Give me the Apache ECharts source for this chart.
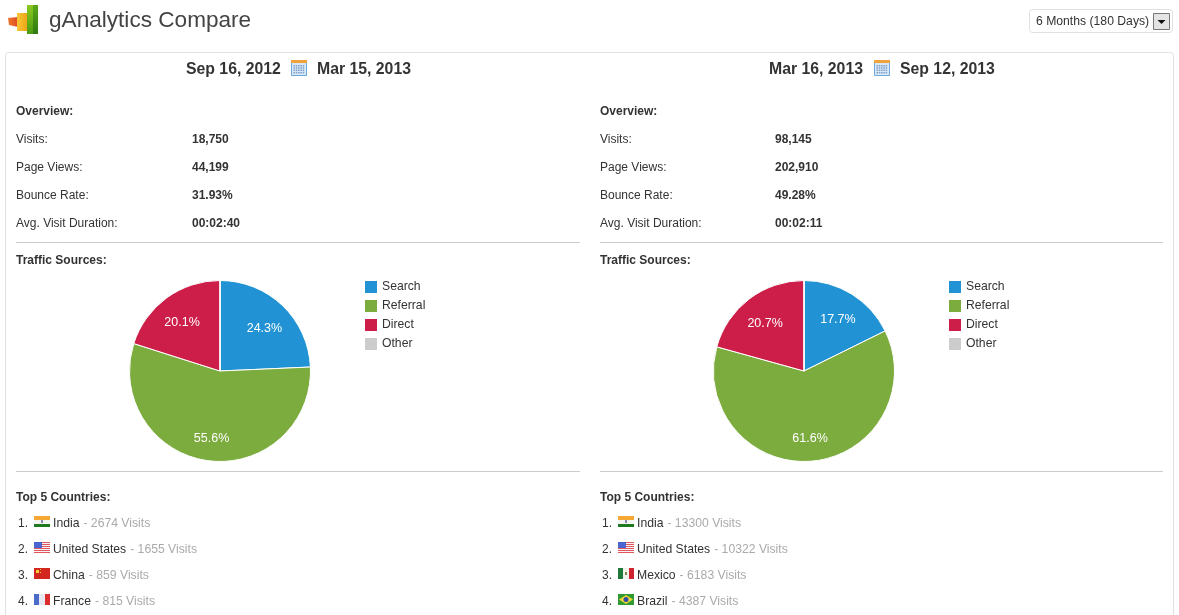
<!DOCTYPE html>
<html><head><meta charset="utf-8">
<style>html,body{margin:0;padding:0;background:#fff}#c{width:1179px;height:615px}</style>
<script src="https://cdn.jsdelivr.net/npm/echarts@6/dist/echarts.min.js"></script>
</head><body><div id="c"></div>
<script>
const sources = ['Search', 'Referral', 'Direct', 'Other'];
const sourceColors = ['#2192d3', '#7cab3e', '#cd1e4a', '#cccccc'];
const leftShares = [24.3, 55.6, 20.1, 0];
const rightShares = [17.7, 61.6, 20.7, 0];
const leftDates = ['Sep 16, 2012', 'Mar 15, 2013'];
const rightDates = ['Mar 16, 2013', 'Sep 12, 2013'];
const overviewLabels = ['Visits:', 'Page Views:', 'Bounce Rate:', 'Avg. Visit Duration:'];
const leftOverview = ['18,750', '44,199', '31.93%', '00:02:40'];
const rightOverview = ['98,145', '202,910', '49.28%', '00:02:11'];
const leftCountries = ['India', 'United States', 'China', 'France'];
const leftCountryVisits = [2674, 1655, 859, 815];
const rightCountries = ['India', 'United States', 'Mexico', 'Brazil'];
const rightCountryVisits = [13300, 10322, 6183, 4387];

const FONT = '"Liberation Sans", Arial, sans-serif';
const g = [];
const txt = (x, y, text, o = {}) => g.push({type: 'text', x, y: y + 1, silent: true, z: 5, style: {
  text, fill: o.fill || '#333', font: `${o.weight || 'normal'} ${o.size || 12}px ${FONT}`,
  textVerticalAlign: 'middle', textAlign: o.align || 'left', rich: o.rich}});
const rect = (x, y, width, height, fill, o = {}) => g.push({type: 'rect', silent: true, z: o.z || 4,
  shape: {x, y, width, height, r: o.r || 0},
  style: {fill, stroke: o.stroke, lineWidth: o.stroke ? 1 : 0}});
const vGrad = (a, b) => new echarts.graphic.LinearGradient(0, 0, 0, 1, [{offset: 0, color: a}, {offset: 1, color: b}]);
const hGrad = (a, b) => new echarts.graphic.LinearGradient(0, 0, 1, 0, [{offset: 0, color: a}, {offset: 1, color: b}]);

const flags = {
  'India': (x, y) => { rect(x, y, 16, 4, '#f5a833'); rect(x, y + 4, 16, 4, '#f4f4f0'); rect(x, y + 8, 16, 3, '#1f7a1f'); rect(x + 7, y + 4, 2, 3, '#8a8ab0'); },
  'United States': (x, y) => { rect(x, y, 16, 11, '#f4f4f8'); [0, 2, 4, 6, 8, 10].forEach(d => rect(x, y + d, 16, 1, '#e0565c')); rect(x, y, 8, 6, '#4a64d0'); },
  'China': (x, y) => { rect(x, y, 16, 11, '#d3261f'); rect(x + 2, y + 2, 3, 3, '#f4d03a'); rect(x + 6, y + 1, 1, 1, '#f4d03a'); rect(x + 6, y + 4, 1, 1, '#f4d03a'); },
  'France': (x, y) => { rect(x, y, 5, 11, '#4a6cc8'); rect(x + 5, y, 6, 11, '#e8e8f0'); rect(x + 11, y, 5, 11, '#dd2c2c'); },
  'Mexico': (x, y) => { rect(x, y, 5, 11, '#1f7a3a'); rect(x + 5, y, 6, 11, '#f2f2ea'); rect(x + 11, y, 5, 11, '#cf2230'); rect(x + 7, y + 4, 2, 3, '#7a8a50'); },
  'Brazil': (x, y) => { rect(x, y, 16, 11, '#2f9a2f');
    g.push({type: 'polygon', silent: true, z: 5, shape: {points: [[x + 8, y + 1], [x + 15, y + 5.5], [x + 8, y + 10], [x + 1, y + 5.5]]}, style: {fill: '#f2d53a'}});
    g.push({type: 'circle', silent: true, z: 6, shape: {cx: x + 8, cy: y + 5.5, r: 2.5}, style: {fill: '#2f4fa0'}}); }
};

function calendar(x, y) {
  rect(x + .5, y + .5, 15, 15, '#d8e8f6', {stroke: '#6ea8dc', z: 4});
  rect(x, y, 16, 3, '#f0a23c', {z: 5});
  for (let r = 0; r < 4; r++) for (let c = 0; c < 5; c++) rect(x + 2.5 + c * 2.3, y + 5 + r * 2.3, 1.5, 1.5, '#7fa0cc', {z: 5});
}

function column(ox, dox, dates, overview, countries, visits) {
  txt(186 + dox, 69, dates[0], {weight: 'bold', size: 15.8});
  calendar(291 + dox, 60);
  txt(317 + dox, 69, dates[1], {weight: 'bold', size: 15.8});
  txt(16 + ox, 111, 'Overview:', {weight: 'bold'});
  overviewLabels.forEach((l, i) => {
    txt(16 + ox, 139 + 28 * i, l);
    txt(192 + dox, 139 + 28 * i, overview[i], {weight: 'bold'});
  });
  rect(16 + ox, 242, 564 - (ox ? 1 : 0), 1, '#cccccc');
  txt(16 + ox, 260, 'Traffic Sources:', {weight: 'bold'});
  rect(16 + ox, 471, 564 - (ox ? 1 : 0), 1, '#cccccc');
  txt(16 + ox, 497, 'Top 5 Countries:', {weight: 'bold'});
  countries.forEach((name, i) => {
    const y = 522 + 26 * i;
    txt(18 + ox, y + 1, (i + 1) + '.');
    flags[name](34 + ox, y - 6);
    txt(53 + ox, y + 0.5, `{a|${name}}{b|- ${visits[i]} Visits}`, {rich: {
      a: {fill: '#333', font: `12.2px ${FONT}`},
      b: {fill: '#aaaaaa', font: `12.2px ${FONT}`, padding: [0, 0, 0, 4]}}});
  });
}

// page chrome
g.push({type: 'polygon', silent: true, z: 4, shape: {points: [[8, 18], [18, 17], [18, 27], [9, 25]]}, style: {fill: hGrad('#f0782e', '#e04a22')}});
rect(17, 13, 10, 18, hGrad('#f8c83a', '#eea414'));
rect(27, 5, 7, 29, vGrad('#8cc820', '#4a9a12'));
rect(33, 5, 5, 29, vGrad('#5aa818', '#2f7a10'), {z: 5});
txt(49, 20, 'gAnalytics Compare', {size: 22.6, fill: '#444'});
rect(1029.5, 9.5, 143, 23, '#fff', {stroke: '#e0e0e0', r: 3});
txt(1036, 21, '6 Months (180 Days)', {size: 12.2});
rect(1153.5, 13.5, 16, 16, '#e4e4e4', {stroke: '#777', z: 5});
g.push({type: 'polygon', silent: true, z: 6, shape: {points: [[1157.5, 20], [1165.5, 20], [1161.5, 24]]}, style: {fill: '#111'}});
rect(5.5, 52.5, 1168, 600, '#fff', {stroke: '#e0e0e0', r: 3, z: 1});

column(0, 0, leftDates, leftOverview, leftCountries, leftCountryVisits);
column(584, 583, rightDates, rightOverview, rightCountries, rightCountryVisits);

const toData = vals => sources.map((name, i) => ({name, value: vals[i]}));
const pie = (cx, vals) => [{
  type: 'pie', center: [cx, 371], radius: [0, 90.5], startAngle: 90, clockwise: true,
  stillShowZeroSum: false, silent: true, animation: false, z: 3,
  color: sourceColors, data: toData(vals), label: {show: false}, labelLine: {show: false},
  itemStyle: {borderColor: '#fff', borderWidth: 1}
}, {
  // transparent ring: only carries the percent labels at the reference's radius
  type: 'pie', center: [cx, 371], radius: [32, 90.5], startAngle: 90, clockwise: true,
  silent: true, animation: false, z: 4, color: sourceColors,
  data: toData(vals), itemStyle: {opacity: 0}, labelLine: {show: false},
  label: {show: true, opacity: 1, position: 'inside', color: '#fff', fontSize: 12.5, fontFamily: FONT, offset: [0, 3.5],
    formatter: p => p.value ? p.value.toFixed(1) + '%' : ''}
}];
const legend = left => ({
  show: true, orient: 'vertical', left, top: 281, padding: 0, itemWidth: 12, itemHeight: 12, itemGap: 7,
  selectedMode: false, data: sources, icon: 'rect', itemStyle: {borderWidth: 0},
  textStyle: {color: '#333', fontSize: 12.2, fontFamily: FONT, padding: [2, 0, 0, 0]}
});

const chart = echarts.init(document.getElementById('c'), null, {renderer: 'canvas', width: 1179, height: 615});
chart.setOption({
  animation: false, backgroundColor: '#fff', color: sourceColors,
  legend: [legend(365), legend(949)],
  series: [...pie(220, leftShares), ...pie(804, rightShares)],
  graphic: {elements: g}
});
</script></body></html>
